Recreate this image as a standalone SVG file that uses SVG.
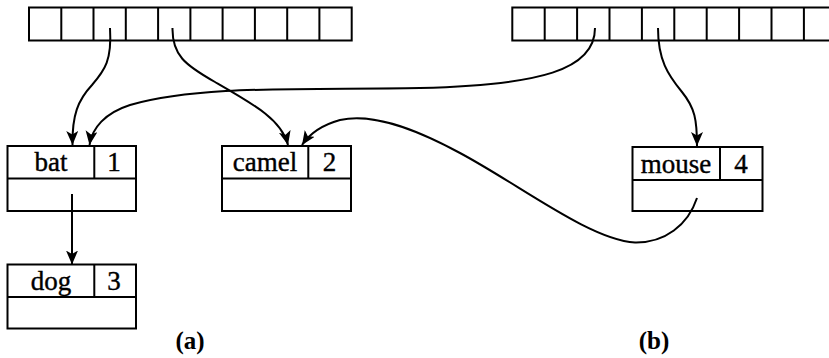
<svg xmlns="http://www.w3.org/2000/svg" width="829" height="358" viewBox="0 0 829 358">
<style>
.box{fill:#fff;stroke:#000;stroke-width:2}
.ln{fill:none;stroke:#000;stroke-width:2}
.conn{fill:none;stroke:#000;stroke-width:2;marker-end:url(#ah)}
.t{font-family:"Liberation Serif","Times New Roman",serif;font-size:27px;fill:#000;stroke:#000;stroke-width:0.4;text-anchor:middle}
.lab{font-family:"Liberation Serif","Times New Roman",serif;font-size:25px;font-weight:bold;fill:#000;text-anchor:middle}
</style>
<defs>
<marker id="ah" markerUnits="userSpaceOnUse" markerWidth="16" markerHeight="14" refX="14" refY="6" orient="auto">
<path d="M0,0 L14,6 L0,12 L3.5,6 z" fill="#000"/>
</marker>
</defs>
<rect width="829" height="358" fill="#fff"/>
<g id="array-a">
<rect class="box" x="29" y="7.5" width="322.7" height="33"/>
<path class="ln" d="M61.3,7.5V40.5M93.5,7.5V40.5M125.8,7.5V40.5M158.1,7.5V40.5M190.4,7.5V40.5M222.6,7.5V40.5M254.9,7.5V40.5M287.2,7.5V40.5M319.4,7.5V40.5"/>
</g>
<g id="array-b">
<rect class="box" x="512.3" y="7.5" width="324" height="33"/>
<path class="ln" d="M544.7,7.5V40.5M577.1,7.5V40.5M609.5,7.5V40.5M641.9,7.5V40.5M674.3,7.5V40.5M706.7,7.5V40.5M739.1,7.5V40.5M771.5,7.5V40.5M803.9,7.5V40.5"/>
</g>
<g id="node-bat">
<rect class="box" x="7.5" y="146" width="128.5" height="65"/>
<path class="ln" d="M7.5,178.5H136M94.3,146V178.5"/>
<text class="t" x="51" y="171">bat</text>
<text class="t" x="114" y="171">1</text>
</g>
<g id="node-camel">
<rect class="box" x="222" y="146" width="129" height="65"/>
<path class="ln" d="M222,178.5H351M308.3,146V178.5"/>
<text class="t" x="265" y="171">camel</text>
<text class="t" x="329.5" y="171">2</text>
</g>
<g id="node-mouse">
<rect class="box" x="632.5" y="147" width="130" height="64"/>
<path class="ln" d="M632.5,180H762.5M720,147V180"/>
<text class="t" x="676" y="173">mouse</text>
<text class="t" x="741" y="173">4</text>
</g>
<g id="node-dog">
<rect class="box" x="7.5" y="264.5" width="128.5" height="64"/>
<path class="ln" d="M7.5,297H136M94.3,264.5V297"/>
<text class="t" x="51" y="290">dog</text>
<text class="t" x="114" y="290">3</text>
</g>
<g id="connectors">
<path class="conn" d="M110,28 C112,60 105,70 92,85 C78,100 72,115 72.5,145"/>
<path class="conn" d="M172.5,28 C172,55 185,65 215,82 C255,105 282,120 288,145"/>
<path class="conn" d="M595,28 C595,70 540,85 420,88 C300,90 200,85 130,105 C105,113 92,128 89.5,145"/>
<path class="conn" d="M658,28 C658,60 668,75 682,92 C695,108 697,120 697,146"/>
<path class="conn" d="M697,198 C688,225 665,243 635,242.5 C590,240 520,185 460,153 C410,126 370,113 340,120 C322,125 310,133 302,145"/>
<path class="conn" d="M72,194 V264.5"/>
</g>
<g id="labels">
<text class="lab" x="190" y="349">(a)</text>
<text class="lab" x="654" y="349">(b)</text>
</g>
</svg>
